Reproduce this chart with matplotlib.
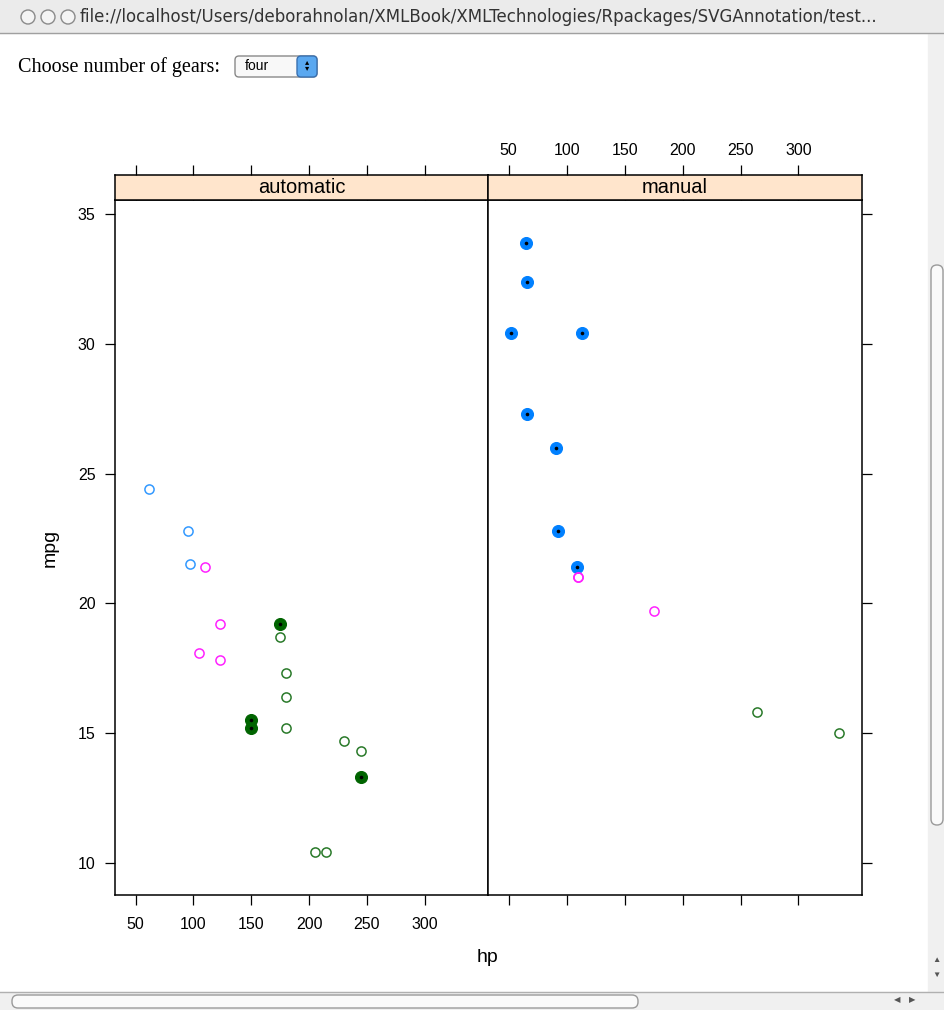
import matplotlib
matplotlib.use("Agg")
import matplotlib.pyplot as plt
from matplotlib.patches import Rectangle, FancyBboxPatch, Circle

# mtcars hp vs mpg, split by transmission, coloured by cylinders
panels = ["automatic", "manual"]

auto_hp = [62, 95, 97, 110, 105, 123, 123, 175, 245, 180, 180, 180, 205, 215, 230, 150, 150, 245, 175]
auto_mpg = [24.4, 22.8, 21.5, 21.4, 18.1, 19.2, 17.8, 18.7, 14.3, 16.4, 17.3, 15.2, 10.4, 10.4, 14.7, 15.5, 15.2, 13.3, 19.2]
auto_cyl = [4, 4, 4, 6, 6, 6, 6, 8, 8, 8, 8, 8, 8, 8, 8, 8, 8, 8, 8]
auto_sel = [0, 0, 0, 0, 0, 0, 0, 0, 0, 0, 0, 0, 0, 0, 0, 1, 1, 1, 1]

man_hp = [66, 52, 65, 66, 91, 113, 93, 109, 110, 110, 175, 264, 335]
man_mpg = [32.4, 30.4, 33.9, 27.3, 26.0, 30.4, 22.8, 21.4, 21.0, 21.0, 19.7, 15.8, 15.0]
man_cyl = [4, 4, 4, 4, 4, 4, 4, 4, 6, 6, 6, 8, 8]
man_sel = [1, 1, 1, 1, 1, 1, 1, 1, 0, 0, 0, 0, 0]

cyl_col = {4: "#0080ff", 6: "#ff00ff", 8: "#006400"}
open_col = {4: "#3399ff", 6: "#ff22ff", 8: "#2a7a2a"}

x_ticks = [50, 100, 150, 200, 250, 300]
y_ticks = [10, 15, 20, 25, 30, 35]
xlim = (32.2, 354.8)
ylim = (8.755, 35.545)

W, H = 944, 1010
fig = plt.figure(figsize=(W / 100, H / 100), dpi=100)
plt.rcParams["font.family"] = ["Liberation Sans", "DejaVu Sans"]


def box(x0, y0, x1, y1):
    # pixel box (top-left origin) -> figure fraction rect
    return [x0 / W, 1 - y1 / H, (x1 - x0) / W, (y1 - y0) / H]


# browser chrome
chrome = fig.add_axes([0, 0, 1, 1], zorder=0)
chrome.set_xlim(0, W)
chrome.set_ylim(H, 0)
chrome.axis("off")
chrome.add_patch(Rectangle((0, 0), W, 33, color="#ebebeb"))
chrome.plot([0, W], [33, 33], color="#a0a0a0", lw=1)
for cx in [28, 48, 68]:
    chrome.add_patch(Circle((cx, 17), 7, fc="#f4f4f4", ec="#8a8a8a", lw=1))
chrome.text(80, 17, "file://localhost/Users/deborahnolan/XMLBook/XMLTechnologies/Rpackages/SVGAnnotation/test...",
            fontsize=12, va="center", ha="left", color="#333333", family=["DejaVu Sans Condensed", "DejaVu Sans"])
chrome.text(18, 67, "Choose number of gears:", fontsize=14.5, va="center", ha="left",
            family=["Liberation Serif", "DejaVu Serif"])
chrome.add_patch(FancyBboxPatch((235, 56), 82, 21, boxstyle="round,pad=0,rounding_size=4",
                                fc="#f8f8f8", ec="#888888", lw=1))
chrome.add_patch(FancyBboxPatch((297, 56), 20, 21, boxstyle="round,pad=0,rounding_size=4",
                                fc="#5aa8f0", ec="#3a70b0", lw=1))
chrome.text(245, 66, "four", fontsize=10, va="center", ha="left")
chrome.text(307, 66, "\u25B4\n\u25BE", fontsize=6, va="center", ha="center", linespacing=0.8)
# scrollbars
chrome.add_patch(Rectangle((928, 34), 16, 958, color="#f0f0f0"))
chrome.add_patch(FancyBboxPatch((931, 265), 12, 560, boxstyle="round,pad=0,rounding_size=6",
                                fc="#fafafa", ec="#9a9a9a", lw=1))
chrome.add_patch(Rectangle((0, 992), W, 18, color="#f0f0f0"))
chrome.plot([0, W], [992, 992], color="#b0b0b0", lw=1)
chrome.add_patch(FancyBboxPatch((12, 995), 626, 13, boxstyle="round,pad=0,rounding_size=6",
                                fc="#fafafa", ec="#9a9a9a", lw=1))
chrome.text(936, 960, "\u25B2", fontsize=6, ha="center", va="center", color="#555555")
chrome.text(936, 975, "\u25BC", fontsize=6, ha="center", va="center", color="#555555")
chrome.text(897, 1001, "\u25C0", fontsize=6, ha="center", va="center", color="#555555")
chrome.text(912, 1001, "\u25B6", fontsize=6, ha="center", va="center", color="#555555")

panel_data = [(auto_hp, auto_mpg, auto_cyl, auto_sel), (man_hp, man_mpg, man_cyl, man_sel)]
edges = [(115, 488), (488, 862)]

for i, (name, (hp, mpg, cyl, sel), (x0, x1)) in enumerate(zip(panels, panel_data, edges)):
    ax = fig.add_axes(box(x0, 200, x1, 895))
    ax.set_xlim(*xlim)
    ax.set_ylim(*ylim)
    for h, m, c, s in zip(hp, mpg, cyl, sel):
        if s:
            ax.plot(h, m, "o", ms=8.6, mfc=cyl_col[c], mec=cyl_col[c], mew=0.8, zorder=3)
            ax.plot(h, m, "o", ms=2.6, mfc="black", mec="black", mew=0, zorder=4)
        else:
            ax.plot(h, m, "o", ms=6.6, mfc="none", mec=open_col[c], mew=1.1, zorder=3)
    ax.set_xticks(x_ticks)
    ax.set_yticks(y_ticks)
    ax.tick_params(direction="out", length=7, width=0.9, labelsize=11.5, pad=9)
    ax.tick_params(axis="x", bottom=True, top=True, labelbottom=(i == 0), labeltop=False)
    ax.tick_params(axis="y", left=(i == 0), right=(i == 1), labelleft=(i == 0), labelright=False, pad=7)
    for sp in ax.spines.values():
        sp.set_linewidth(1.1)

    strip = fig.add_axes(box(x0, 175, x1, 200))
    strip.set_xlim(*xlim)
    strip.set_facecolor("#ffe5cc")
    strip.set_yticks([])
    strip.set_xticks(x_ticks)
    strip.tick_params(axis="x", direction="out", length=7, width=0.9, labelsize=11.5, pad=5,
                      bottom=False, top=True, labelbottom=False, labeltop=(i == 1))
    for sp in strip.spines.values():
        sp.set_linewidth(1.1)
    strip.text(0.5, 0.5, name, transform=strip.transAxes, ha="center", va="center", fontsize=14.5)

fig.text(50 / W, 1 - 548 / H, "mpg", rotation=90, ha="center", va="center", fontsize=14)
fig.text(488 / W, 1 - 958 / H, "hp", ha="center", va="center", fontsize=14)

fig.savefig("out.png", dpi=100)
